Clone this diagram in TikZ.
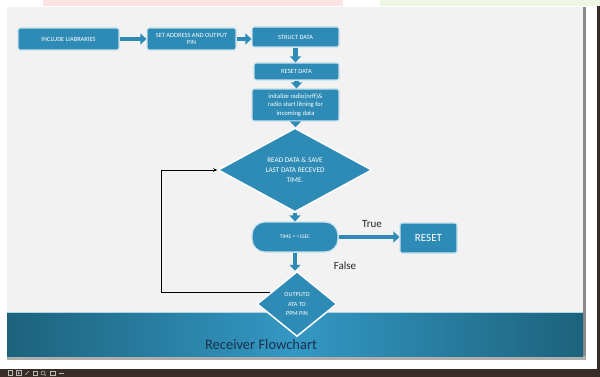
\documentclass[tikz,border=0pt]{standalone}
\usepackage{fontspec}
\setmainfont{Carlito}
\usetikzlibrary{arrows.meta,shapes.geometric,calc}

\definecolor{flowblue}{RGB}{46,139,181}
\definecolor{flowedge}{RGB}{200,226,238}
\definecolor{banddark}{RGB}{28,98,124}
\definecolor{bandlight}{RGB}{52,152,196}
\definecolor{slidebg}{RGB}{242,242,242}
\definecolor{titleink}{RGB}{26,50,80}
\definecolor{woodbrown}{RGB}{56,44,38}
\definecolor{pinkband}{RGB}{252,228,228}
\definecolor{greenband}{RGB}{238,246,228}
\definecolor{slideedge}{RGB}{140,140,140}

\tikzset{
  stepbox/.style={rectangle, rounded corners=2pt, fill=flowblue, draw=flowedge,
    line width=1.2pt, text=white, align=center, inner sep=1pt,
    font=\fontsize{6.4}{7.8}\selectfont},
  decision/.style={diamond, fill=flowblue, draw=white, line width=1.5pt,
    text=white, align=center, inner sep=0pt},
  blockarrow/.style={draw=flowblue, line width=4.5pt,
    -{Triangle[width=11pt,length=6pt,fill=flowblue]}},
  loopline/.style={draw=black, line width=0.8pt, -{Stealth[length=4pt,width=3.5pt]}},
  branchlabel/.style={font=\fontsize{11}{13}\selectfont, text=black!85, inner sep=0pt}
}

\begin{document}
\begin{tikzpicture}[x=1pt, y=-1pt]
\useasboundingbox (0,0) rectangle (600,377);

% page, window strips and slide surface
\fill[white] (0,0) rectangle (600,377);
\fill[pinkband] (43,0) rectangle (343,6);
\fill[greenband] (380,0) rectangle (600,6);
\fill[slidebg] (7,7) rectangle (583,358);
\fill[slideedge] (583,7) rectangle (586,360);
\fill[slideedge!70] (7,356) rectangle (586,360);

% title band
\shade[left color=banddark, right color=banddark, middle color=bandlight]
  (7,312) rectangle (583,356);
\draw[bandlight!40, line width=0.8pt] (7,312.4) -- (583,312.4);
\node[font=\fontsize{14.5}{16}\selectfont, text=titleink] (title) at (261,345) {Receiver Flowchart};

% dark surround and presenter toolbar
\fill[woodbrown] (0,369) rectangle (600,377);
\fill[woodbrown] (597,6) rectangle (600,377);
\begin{scope}[draw=gray!55, line width=0.5pt]
  \draw (8,370.5) rectangle (12,375.5);
  \draw (16,370.5) rectangle (21,375.5);
  \fill[gray!55] (18,371.5) -- (20,373) -- (18,374.5) -- cycle;
  \draw (25,375) -- (29,371);
  \draw (33,371) rectangle (37,375);
  \draw (43,373) circle (2pt);
  \draw (44.5,374.5) -- (46,376);
  \draw (50,371) rectangle (55,375);
  \draw (59,373) -- (64,373);
\end{scope}

% flowchart steps
\node[stepbox, minimum width=101pt, minimum height=22pt] (libs) at (68.5,39) {INCLUDE LIABRARIES};
\node[stepbox, minimum width=89pt, minimum height=22pt] (addr) at (191.5,39) {SET ADDRESS AND OUTPUT\\PIN};
\node[stepbox, minimum width=87pt, minimum height=20pt] (struct) at (295.5,37) {STRUCT DATA};
\node[stepbox, minimum width=85pt, minimum height=17pt] (resetdata) at (296.5,71.5) {RESET DATA};
\node[stepbox, minimum width=87pt, minimum height=32pt, font=\fontsize{6.6}{8.5}\selectfont] (init) at (295.5,105)
  {initalize radio(nrff)\&\\radio start litning for\\incoming data};
\node[decision, minimum width=154pt, minimum height=55pt, font=\fontsize{7.2}{10}\selectfont] (read) at (295,170)
  {READ DATA \& SAVE\\LAST DATA RECEVED\\TIME.};
\node[stepbox, rounded corners=13pt, minimum width=86pt, minimum height=30pt, font=\fontsize{5.5}{6.5}\selectfont] (timer) at (295,237)
  {TIME = >1SEC};
\node[stepbox, minimum width=57pt, minimum height=30pt, font=\fontsize{11}{13}\selectfont] (resetbox) at (428.5,238) {RESET};
\node[decision, minimum width=80pt, minimum height=65pt, font=\fontsize{6.2}{9.5}\selectfont] (out) at (297,304)
  {OUTPUTD\\ATA TO\\PPM PIN};

% branch labels
\node[branchlabel] (truelbl) at (372,224) {True};
\node[branchlabel] (falselbl) at (345,266) {False};

% connectors
\draw[blockarrow] (libs.east) -- (addr.west);
\draw[blockarrow] (addr.east) -- (addr.east -| struct.west);
\draw[blockarrow] (struct.south) -- (struct.south |- resetdata.north);
\draw[blockarrow] (resetdata.south) -- (resetdata.south |- init.north);
\draw[blockarrow] (init.south) -- (init.south |- read.north);
\draw[blockarrow] (read.south) -- (read.south |- timer.north);
\draw[blockarrow] (timer.east) -- (timer.east -| resetbox.west);
\draw[blockarrow] (timer.south) -- (timer.south |- out.north);
\draw[loopline] (out.157) -| ([xshift=-56pt]read.west) -- (read.west);
\end{tikzpicture}
\end{document}
